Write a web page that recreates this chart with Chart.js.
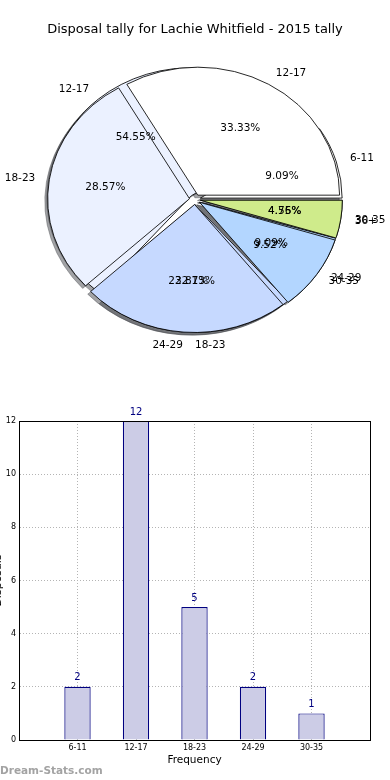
<!DOCTYPE html>
<html><head><meta charset="utf-8">
<script src="https://cdn.jsdelivr.net/npm/chart.js@4.4.1/dist/chart.umd.min.js"></script>
<style>
html,body{margin:0;padding:0;background:#fff;width:390px;height:780px;overflow:hidden;position:relative;}
canvas{position:absolute;}
#pie1,#pie2{left:0;top:0;}
#bar{left:-10px;top:400px;}
#wm{position:absolute;left:0;top:762px;font:bold 10.5px 'DejaVu Sans';color:#a3a3a3;line-height:16px;white-space:nowrap;}
</style></head><body>
<canvas id="pie1" width="390" height="360"></canvas>
<canvas id="pie2" width="390" height="360"></canvas>
<canvas id="bar" width="400" height="380"></canvas>
<div id="wm">Dream-Stats.com</div>
<script>
// ---- data ----
const chartTitle = 'Disposal tally for Lachie Whitfield - 2015 tally';
const categories = ['6-11', '12-17', '18-23', '24-29', '30-35'];
const tally = [2, 12, 5, 2, 1];
const categories2 = ['12-17', '18-23', '24-29', '30-35', '36+'];
const tally2 = [7, 6, 5, 2, 1];
const yMax = 12;
const yStep = 2;
const xAxisTitle = 'Frequency';
const yAxisTitle = 'Disposals';

// ---- style ----
const SLICE_COLORS = ['#ffffff', '#ebf1ff', '#c6d9ff', '#b3d6ff', '#cfeb8b'];
const SX = 1.108, RADIUS = 128, EXPLODE = 5, SHADOW = 2.6;
const FONT = 'DejaVu Sans';
Chart.defaults.font.family = FONT;

let pieA = null, pieB = null;

function drawArcEl(ctx, el, dx, dy, color) {
  const a = (el.startAngle + el.endAngle) / 2;
  ctx.save();
  ctx.translate(dx + Math.cos(a) * EXPLODE, dy + Math.sin(a) * EXPLODE);
  if (color) {
    const fake = Object.create(el);
    fake.options = Object.assign({}, el.options, {backgroundColor: color, borderColor: color});
    el.draw.call(fake, ctx);
  } else {
    el.draw(ctx);
  }
  ctx.restore();
}
function orderedArcs(chart) { return chart.getDatasetMeta(0).data.slice().reverse(); }

function piePlugin(withShadow) {
  return {
    id: 'mplPie',
    beforeDatasetsDraw(chart) {
      const els = orderedArcs(chart);
      if (!els.length) return;
      const ctx = chart.ctx, cx = els[0].x, cy = els[0].y;
      ctx.save();
      ctx.translate(cx, cy); ctx.scale(SX, 1); ctx.translate(-cx, -cy);
      if (withShadow) {
        const srcs = [chart];
        if (pieB) srcs.push(pieB);
        srcs.forEach(c => orderedArcs(c).forEach(el => drawArcEl(ctx, el, -SHADOW, SHADOW, 'rgba(70,72,77,0.5)')));
      }
      els.forEach(el => drawArcEl(ctx, el, 0, 0));
      ctx.restore();
      return false;
    }
  };
}

const labelPlugin = {
  id: 'mplPieLabels',
  afterDraw(chart) {
    const ctx = chart.ctx;
    ctx.save();
    ctx.font = '10.5px "DejaVu Sans"';
    ctx.fillStyle = '#000';
    ctx.textBaseline = 'middle';
    [pieA, chart].forEach(c => {
      if (!c) return;
      const ds = c.data.datasets[0];
      const total = ds.data.reduce((s, v) => s + v, 0);
      c.getDatasetMeta(0).data.map((el, i) => ({el, i})).reverse().forEach(({el, i}) => {
        const a = (el.startAngle + el.endAngle) / 2, R = el.outerRadius;
        const cs = Math.cos(a), sn = Math.sin(a);
        const rl = EXPLODE + 1.1 * R, rp = EXPLODE + 0.6 * R;
        ctx.textAlign = cs > -1e-9 ? 'left' : 'right';
        ctx.fillText(c.data.labels[i], el.x + SX * rl * cs, el.y + rl * sn);
        ctx.textAlign = 'center';
        ctx.fillText((ds.data[i] / total * 100).toFixed(2) + '%', el.x + SX * rp * cs, el.y + rp * sn);
      });
    });
    ctx.restore();
  }
};

function pieConfig(labels, values, plugins, withTitle) {
  return {
    type: 'pie',
    data: {
      labels: labels.slice().reverse(),
      datasets: [{
        data: values.slice().reverse(),
        backgroundColor: SLICE_COLORS.slice(0, values.length).reverse(),
        borderColor: '#000',
        borderWidth: 0.8,
        radius: RADIUS,
        rotation: 90
      }]
    },
    options: {
      responsive: false, animation: false, events: [],
      radius: RADIUS, rotation: 90,
      layout: {padding: {top: withTitle ? 0 : 39}},
      plugins: {
        legend: {display: false}, tooltip: {enabled: false},
        title: {
          display: withTitle, text: chartTitle, color: '#000',
          font: {family: FONT, size: 13, weight: 'normal', lineHeight: 1.2},
          padding: {top: 22, bottom: 1.4}
        }
      }
    },
    plugins: plugins
  };
}

pieA = new Chart(document.getElementById('pie1'), pieConfig(categories, tally, [piePlugin(true)], false));
pieB = new Chart(document.getElementById('pie2'), pieConfig(categories2, tally2, [piePlugin(false), labelPlugin], true));
pieA.draw();
pieB.draw();

// ---- bar chart ----
const barPlugin = {
  id: 'barExtras',
  afterDraw(chart) {
    const ctx = chart.ctx, meta = chart.getDatasetMeta(0), ds = chart.data.datasets[0];
    ctx.save();
    ctx.font = '10px "DejaVu Sans"'; ctx.fillStyle = '#000080';
    ctx.textAlign = 'center'; ctx.textBaseline = 'middle';
    meta.data.forEach((el, i) => {
      const v = ds.data[i];
      if (v == null) return;
      ctx.fillText(String(v), el.x, el.y - 9);
    });
    const a = chart.chartArea;
    ctx.strokeStyle = '#000'; ctx.lineWidth = 1;
    ctx.strokeRect(a.left + 0.5, a.top + 0.5, a.right - a.left, a.bottom - a.top);
    ctx.restore();
  }
};

new Chart(document.getElementById('bar'), {
  type: 'bar',
  data: {
    labels: [''].concat(categories, ['']),
    datasets: [{
      data: [null].concat(tally, [null]),
      backgroundColor: '#ccccE6',
      borderColor: '#000080',
      borderWidth: 1.2,
      barPercentage: 0.45,
      categoryPercentage: 1
    }]
  },
  options: {
    responsive: false, animation: false, events: [],
    layout: {padding: {top: 21, right: 20, left: 0, bottom: 0}},
    plugins: {legend: {display: false}, tooltip: {enabled: false}},
    scales: {
      x: {
        offset: false, z: 1,
        grid: {offset: false, color: '#b4b4b4', lineWidth: 1, drawTicks: false},
        border: {display: true, color: '#000', width: 1, dash: [1, 2]},
        ticks: {font: {family: FONT, size: 8}, color: '#000', padding: 3, autoSkip: false, maxRotation: 0},
        title: {display: true, text: xAxisTitle, color: '#000', font: {family: FONT, size: 10.5}, padding: {top: 0, bottom: 13.7}},
        afterFit: s => { s.height = 40; }
      },
      y: {
        min: 0, max: yMax, z: 1,
        grid: {color: '#b4b4b4', lineWidth: 1, drawTicks: false},
        border: {display: true, color: '#000', width: 1, dash: [1, 2]},
        ticks: {stepSize: yStep, font: {family: FONT, size: 8}, color: '#000', padding: 3},
        title: {display: true, text: yAxisTitle, color: '#000', font: {family: FONT, size: 11}, padding: {top: 2, bottom: 0}},
        afterFit: s => { s.width = 29; }
      }
    }
  },
  plugins: [barPlugin]
});
</script></body></html>
